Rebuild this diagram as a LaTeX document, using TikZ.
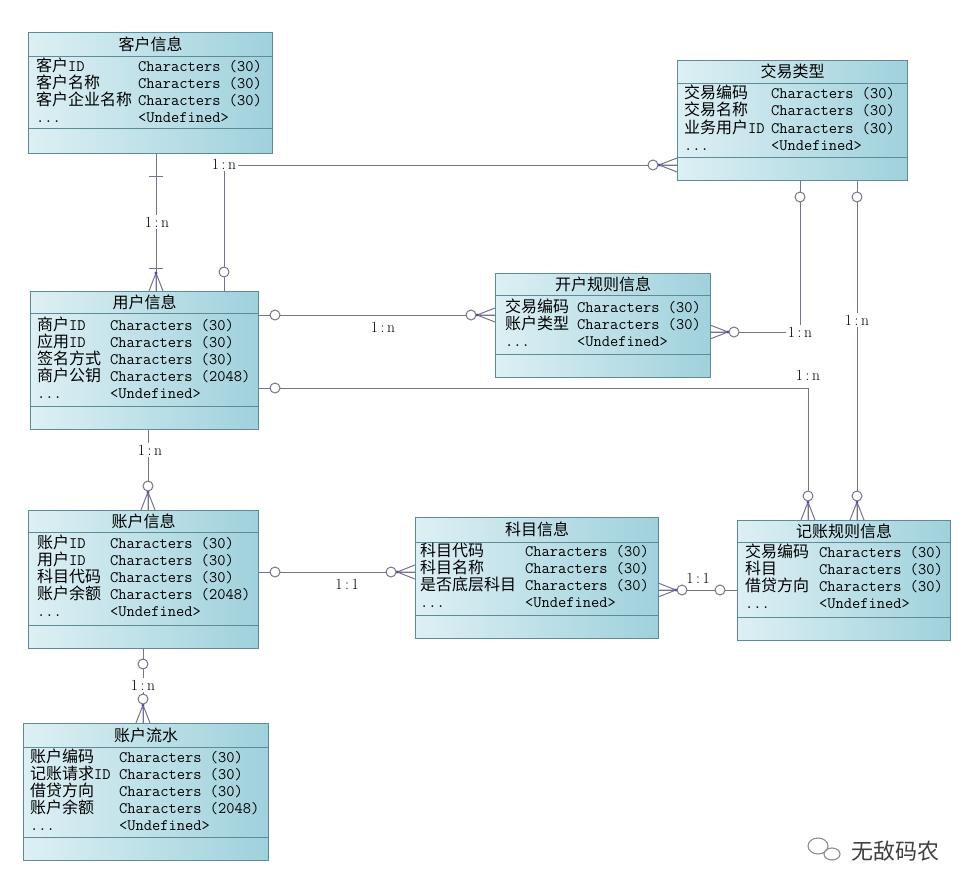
\documentclass[tikz,border=0pt]{standalone}
\usepackage{fontspec}
\newfontfamily\cjkf{Noto Sans CJK SC}
\usetikzlibrary{positioning}

\definecolor{boxL}{HTML}{DDF0F4}
\definecolor{boxR}{HTML}{9FD1DC}
\definecolor{boxline}{HTML}{5E8C96}
\definecolor{linec}{HTML}{74748C}

\tikzset{
  ebox/.style={draw=boxline,line width=1pt,left color=boxL,right color=boxR,anchor=north west,inner sep=0pt},
  eline/.style={draw=boxline,line width=0.9pt},
  etitle/.style={font=\cjkf\fontsize{16}{17}\selectfont,inner sep=0pt},
  fname/.style={font=\cjkf\fontsize{16}{17}\selectfont,anchor=west,inner sep=0pt,text height=13pt,text depth=3pt},
  ftype/.style={font=\ttfamily\fontsize{16}{17}\selectfont,anchor=west,inner sep=0pt,text height=13pt,text depth=3pt},
  conn/.style={draw=linec,line width=1pt},
  card/.style={font=\fontsize{15.5}{15.5}\selectfont,fill=white,inner sep=1.5pt},
  ring/.style={draw=linec,line width=1pt,fill=white},
  crow/.pic={\draw[conn] (0,0) -- (18,-7) (0,0) -- (18,0) (0,0) -- (18,7);
             \fill[linec!60!blue] (0,0) circle (1.6);},
  bar/.pic={\draw[conn] (0,-7) -- (0,7);}
}

\newcommand\tid{\texttt{ID}}
% one row per field: name column, then type column
\newcommand\fields[5]{%
  \foreach \fn/\ft [count=\i from 0] in {#5}{%
    \node[fname] (#1n\i) at (#2,{#3+17*\i}) {\fn};
    \node[ftype] (#1t\i) at ({#2+#4},{#3+17*\i}) {\ft};}}

\begin{document}
\begin{tikzpicture}[x=1pt,y=-1pt]
  \useasboundingbox (0,0) rectangle (976,872);

  % entities
  \node[ebox,minimum width=244pt,minimum height=121pt] (kh) at (28,32) {};
  \draw[eline] (kh.west |- 0,56) -- (kh.east |- 0,56);
  \draw[eline] (kh.west |- 0,128) -- (kh.east |- 0,128);
  \node[etitle] (khTitle) at (kh.north |- 0,44) {客户信息};
  \fields{kh}{36}{67}{102}{客户\tid/Characters (30),客户名称/Characters (30),客户企业名称/Characters (30),\texttt{...}/<Undefined>}

  \node[ebox,minimum width=230pt,minimum height=120pt] (jy) at (677,60) {};
  \draw[eline] (jy.west |- 0,83) -- (jy.east |- 0,83);
  \draw[eline] (jy.west |- 0,157) -- (jy.east |- 0,157);
  \node[etitle] (jyTitle) at (jy.north |- 0,71) {交易类型};
  \fields{jy}{684}{94}{87}{交易编码/Characters (30),交易名称/Characters (30),业务用户\tid/Characters (30),\texttt{...}/<Undefined>}

  \node[ebox,minimum width=228pt,minimum height=138pt] (yh) at (30,291) {};
  \draw[eline] (yh.west |- 0,313) -- (yh.east |- 0,313);
  \draw[eline] (yh.west |- 0,406) -- (yh.east |- 0,406);
  \node[etitle] (yhTitle) at (yh.north |- 0,302) {用户信息};
  \fields{yh}{37}{325}{73}{商户\tid/Characters (30),应用\tid/Characters (30),签名方式/Characters (30),商户公钥/Characters (2048),\texttt{...}/<Undefined>}

  \node[ebox,minimum width=215pt,minimum height=104pt] (kr) at (495,273) {};
  \draw[eline] (kr.west |- 0,295) -- (kr.east |- 0,295);
  \draw[eline] (kr.west |- 0,354) -- (kr.east |- 0,354);
  \node[etitle] (krTitle) at (kr.north |- 0,284) {开户规则信息};
  \fields{kr}{505}{307}{72}{交易编码/Characters (30),账户类型/Characters (30),\texttt{...}/<Undefined>}

  \node[ebox,minimum width=230pt,minimum height=138pt] (zh) at (28,510) {};
  \draw[eline] (zh.west |- 0,532) -- (zh.east |- 0,532);
  \draw[eline] (zh.west |- 0,625) -- (zh.east |- 0,625);
  \node[etitle] (zhTitle) at (zh.north |- 0,521) {账户信息};
  \fields{zh}{37}{543}{73}{账户\tid/Characters (30),用户\tid/Characters (30),科目代码/Characters (30),账户余额/Characters (2048),\texttt{...}/<Undefined>}

  \node[ebox,minimum width=243pt,minimum height=121pt] (km) at (415,517) {};
  \draw[eline] (km.west |- 0,542) -- (km.east |- 0,542);
  \draw[eline] (km.west |- 0,615) -- (km.east |- 0,615);
  \node[etitle] (kmTitle) at (km.north |- 0,529) {科目信息};
  \fields{km}{420}{551}{105}{科目代码/Characters (30),科目名称/Characters (30),是否底层科目/Characters (30),\texttt{...}/<Undefined>}

  \node[ebox,minimum width=213pt,minimum height=120pt] (jz) at (737,520) {};
  \draw[eline] (jz.west |- 0,542) -- (jz.east |- 0,542);
  \draw[eline] (jz.west |- 0,617) -- (jz.east |- 0,617);
  \node[etitle] (jzTitle) at (jz.north |- 0,531) {记账规则信息};
  \fields{jz}{745}{552}{74}{交易编码/Characters (30),科目/Characters (30),借贷方向/Characters (30),\texttt{...}/<Undefined>}

  \node[ebox,minimum width=245pt,minimum height=137pt] (ls) at (23,723) {};
  \draw[eline] (ls.west |- 0,747) -- (ls.east |- 0,747);
  \draw[eline] (ls.west |- 0,837) -- (ls.east |- 0,837);
  \node[etitle] (lsTitle) at (ls.north |- 0,735) {账户流水};
  \fields{ls}{30}{757}{89}{账户编码/Characters (30),记账请求\tid/Characters (30),借贷方向/Characters (30),账户余额/Characters (2048),\texttt{...}/<Undefined>}

  % relations
  \draw[conn] (kh.south -| 156,0) -- (yh.north -| 156,0);
  \pic[rotate=-90] at (156,176) {bar};
  \pic[rotate=-90] at (156,268) {bar};
  \pic[rotate=-90] at (156,273) {crow};
  \node[card] (c1) at (157,222) {1\,:\,n};

  \draw[conn] (yh.north -| 224,0) |- (jy.west |- 0,165);
  \node[card] (c2) at (224,164) {1\,:\,n};
  \draw[ring] (224,272) circle (5);
  \pic at (659,165) {crow};
  \draw[ring] (653,165) circle (5);

  \draw[conn] (yh.east |- 0,315) -- (kr.west |- 0,315);
  \draw[ring] (275,315) circle (5);
  \pic at (477,315) {crow};
  \draw[ring] (471,315) circle (5);
  \node[card,fill=none] (c3) at (383,327) {1\,:\,n};

  \draw[conn] (jy.south -| 800,0) |- (kr.east |- 0,332);
  \draw[ring] (800,197) circle (5);
  \pic[rotate=180] at (728,332) {crow};
  \draw[ring] (734,332) circle (5);
  \node[card] (c4) at (800,332) {1\,:\,n};

  \draw[conn] (jy.south -| 857,0) -- (jz.north -| 857,0);
  \draw[ring] (857,197) circle (5);
  \node[card] (c5) at (857,320) {1\,:\,n};
  \pic[rotate=-90] at (857,502) {crow};
  \draw[ring] (857,496) circle (5);

  \draw[conn] (yh.east |- 0,388) -| (jz.north -| 808,0);
  \draw[ring] (275,388) circle (5);
  \node[card,fill=none] (c6) at (808,375) {1\,:\,n};
  \pic[rotate=-90] at (808,502) {crow};
  \draw[ring] (808,496) circle (5);

  \draw[conn] (yh.south -| 148,0) -- (zh.north -| 148,0);
  \node[card] (c7) at (150,450) {1\,:\,n};
  \pic[rotate=-90] at (148,492) {crow};
  \draw[ring] (148,486) circle (5);

  \draw[conn] (zh.east |- 0,572) -- (km.west |- 0,572);
  \draw[ring] (275,572) circle (5);
  \node[card,fill=none] (c8) at (347,584) {1\,:\,1};
  \pic at (397,572) {crow};
  \draw[ring] (391,572) circle (5);

  \draw[conn] (km.east |- 0,590) -- (jz.west |- 0,590);
  \pic[rotate=180] at (676,590) {crow};
  \draw[ring] (682,590) circle (5);
  \draw[ring] (720,590) circle (5);
  \node[card,fill=none] (c9) at (698,578) {1\,:\,1};

  \draw[conn] (zh.south -| 143,0) -- (ls.north -| 143,0);
  \draw[ring] (143,664) circle (5);
  \node[card] (c10) at (143,685) {1\,:\,n};
  \pic[rotate=-90] at (143,705) {crow};
  \draw[ring] (143,699) circle (5);

  % watermark
  \draw[black!45,line width=1.1pt] (818,846) ellipse (10 and 8) (832,854) ellipse (8 and 6);
  \node[font=\cjkf\fontsize{22}{22}\selectfont,text=black!75] (wm) at (895,851) {无敌码农};
\end{tikzpicture}
\end{document}
